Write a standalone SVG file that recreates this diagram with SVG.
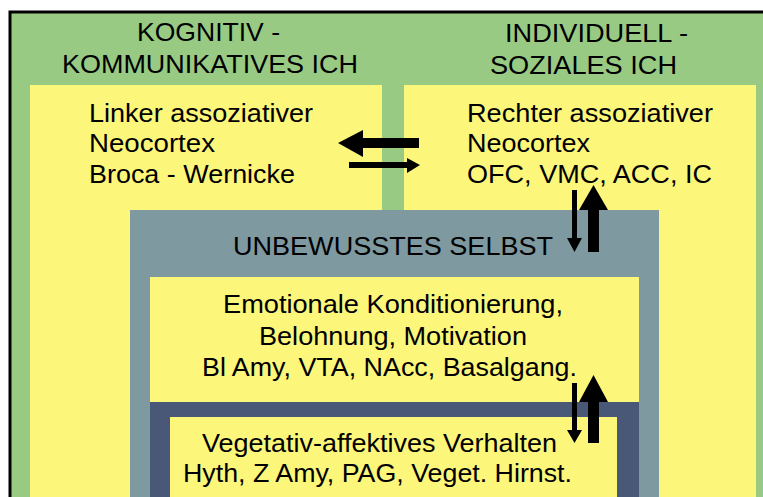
<svg xmlns="http://www.w3.org/2000/svg" width="763" height="497" viewBox="0 0 763 497">
<style>
.g{fill:#99ca83}
.y{fill:#fcf67b}
.b{fill:#7e99a0}
.d{fill:#4a5878}
text{font-family:"Liberation Sans",Arial,sans-serif;font-size:26px;fill:#000}
.t{font-size:25px}
.arr{fill:#000}
</style>
<rect x="0" y="0" width="763" height="497" fill="#ffffff"/>
<g id="outer">
<rect class="g" x="10" y="12" width="760" height="490" stroke="#000" stroke-width="3"/>
</g>
<g id="kognitiv">
<text class="t" x="137" y="41" textLength="143" lengthAdjust="spacingAndGlyphs">KOGNITIV -</text>
<text class="t" x="62" y="73" textLength="296" lengthAdjust="spacingAndGlyphs">KOMMUNIKATIVES ICH</text>
</g>
<g id="individuell">
<text class="t" x="505" y="42" textLength="183" lengthAdjust="spacingAndGlyphs">INDIVIDUELL -</text>
<text class="t" x="490" y="74" textLength="187" lengthAdjust="spacingAndGlyphs">SOZIALES ICH</text>
</g>
<g id="links">
<rect class="y" x="30" y="85" width="352" height="420"/>
<text x="89" y="122" textLength="224" lengthAdjust="spacingAndGlyphs">Linker assoziativer</text>
<text x="89" y="152" textLength="126" lengthAdjust="spacingAndGlyphs">Neocortex</text>
<text x="89" y="183" textLength="206" lengthAdjust="spacingAndGlyphs">Broca - Wernicke</text>
</g>
<g id="rechts">
<rect class="y" x="404" y="85" width="352" height="420"/>
<text x="467" y="122" textLength="246" lengthAdjust="spacingAndGlyphs">Rechter assoziativer</text>
<text x="467" y="152" textLength="123" lengthAdjust="spacingAndGlyphs">Neocortex</text>
<text x="467" y="183" textLength="245" lengthAdjust="spacingAndGlyphs">OFC, VMC, ACC, IC</text>
</g>
<g id="unbewusst">
<rect class="b" x="130" y="210" width="529" height="295"/>
<text class="t" x="233" y="255" textLength="320" lengthAdjust="spacingAndGlyphs">UNBEWUSSTES SELBST</text>
</g>
<g id="emotional">
<rect class="y" x="150" y="277" width="489" height="228"/>
<text x="223" y="313" textLength="340" lengthAdjust="spacingAndGlyphs">Emotionale Konditionierung,</text>
<text x="259" y="345" textLength="268" lengthAdjust="spacingAndGlyphs">Belohnung, Motivation</text>
<text x="202" y="376" textLength="375" lengthAdjust="spacingAndGlyphs">Bl Amy, VTA, NAcc, Basalgang.</text>
</g>
<g id="vegetativ">
<rect class="d" x="150" y="402" width="489" height="103"/>
<rect class="y" x="170" y="417" width="447" height="88"/>
<text x="202" y="452" textLength="355" lengthAdjust="spacingAndGlyphs">Vegetativ-affektives Verhalten</text>
<text x="183" y="482" textLength="389" lengthAdjust="spacingAndGlyphs">Hyth, Z Amy, PAG, Veget. Hirnst.</text>
</g>
<g id="connectors">
<polygon class="arr" points="419,138 363,138 363,130 338,143 363,157 363,148 419,148"/>
<polygon class="arr" points="349,162 407,162 407,158 420,165 407,173 407,168 349,168"/>
<polygon class="arr" points="572,190 577,190 577,238 582,238 574.5,252 567,238 572,238"/>
<polygon class="arr" points="588,252 599,252 599,210 608,210 593.5,185 579,210 588,210"/>
<polygon class="arr" points="572,383 577,383 577,430 582,430 574.5,443 567,430 572,430"/>
<polygon class="arr" points="588,443 599,443 599,402 608,402 593.5,375 579,402 588,402"/>
</g>
</svg>
